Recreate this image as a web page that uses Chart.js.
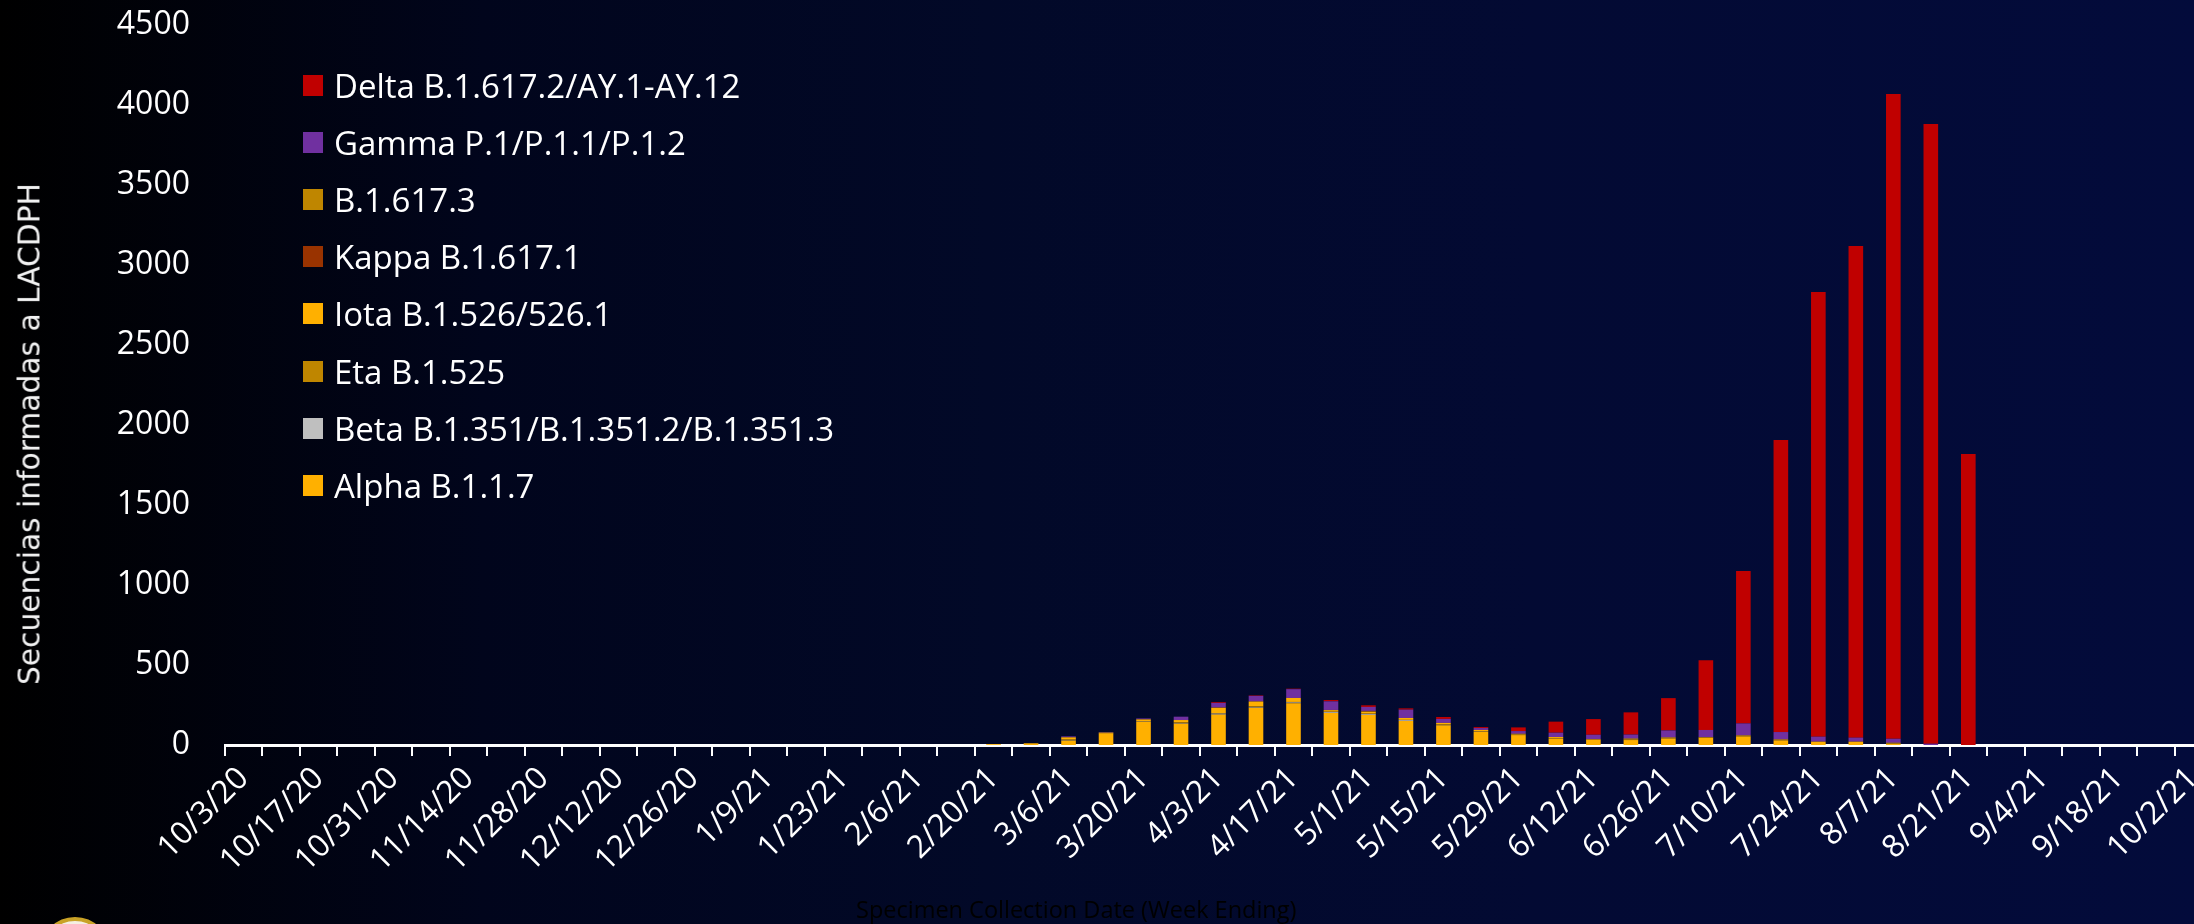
<!DOCTYPE html>
<html>
<head>
<meta charset="utf-8">
<title>Secuencias informadas a LACDPH</title>
<script src="https://cdn.jsdelivr.net/npm/chart.js@4.4.1/dist/chart.umd.min.js"></script>
<style>
  html, body {
    margin: 0;
    padding: 0;
    width: 2194px;
    height: 924px;
    overflow: hidden;
  }
  body {
    position: relative;
    background: linear-gradient(to right, #000000 0%, #01051c 22%, #020928 45%, #030a33 70%, #030b3b 100%);
    font-family: 'Open Sans', sans-serif;
  }
  #chart {
    position: absolute;
    left: 0;
    top: 0;
  }
  #yTitle {
    position: absolute;
    left: 29px;
    top: 434px;
    transform: translate(-50%, -50%) rotate(-90deg);
    font-family: 'DejaVu Sans', sans-serif;
    font-size: 29.7px;
    color: #f2f2f2;
    white-space: nowrap;
  }
  #xTitle {
    position: absolute;
    left: 856px;
    top: 898px;
    font-size: 23.5px;
    line-height: 23.5px;
    color: #000000;
    white-space: nowrap;
  }
  #legend {
    position: absolute;
    left: 303px;
    top: 64px;
    color: #ffffff;
    font-size: 33px;
  }
  .row {
    height: 57.1px;
    display: flex;
    align-items: center;
    white-space: nowrap;
    margin-top: -7px;
    margin-bottom: 7px;
  }
  .box {
    width: 20px;
    height: 21px;
    margin-right: 11px;
    flex: none;
  }
  #logo {
    position: absolute;
    left: 40px;
    top: 917px;
    width: 62px;
    height: 62px;
    border-radius: 50%;
    border: 4px solid #c9a227;
    background: #f4efe2;
  }
</style>
</head>
<body>
<canvas id="chart" width="2212" height="924"></canvas>
<div id="yTitle">Secuencias informadas a LACDPH</div>
<div id="xTitle">Specimen Collection Date (Week Ending)</div>
<div id="legend"></div>
<div id="logo"></div>
<script>
// semaines (fin de semaine de prélèvement)
var semaines = ['10/3/20','10/10/20','10/17/20','10/24/20','10/31/20','11/7/20','11/14/20','11/21/20','11/28/20',
  '12/5/20','12/12/20','12/19/20','12/26/20','1/2/21','1/9/21','1/16/21','1/23/21','1/30/21','2/6/21','2/13/21',
  '2/20/21','2/27/21','3/6/21','3/13/21','3/20/21','3/27/21','4/3/21','4/10/21','4/17/21','4/24/21','5/1/21',
  '5/8/21','5/15/21','5/22/21','5/29/21','6/5/21','6/12/21','6/19/21','6/26/21','7/3/21','7/10/21','7/17/21',
  '7/24/21','7/31/21','8/7/21','8/14/21','8/21/21','8/28/21','9/4/21','9/11/21','9/18/21','9/25/21','10/2/21'];

// valeurs (indices 0..52)
var alpha = [0,0,0,0,0,0,0,0,0,0,0,0,0,0,0,0,0,0,0,0,
  5,10,27,74,146,133,190,232,261,200,188,150,123,83,62,40,33,31,41,44,54,29,21,21,6,0,0,
  0,0,0,0,0,0];
var beta = [0,0,0,0,0,0,0,0,0,0,0,0,0,0,0,0,0,0,0,0,
  0,0,2,1,2,3,6,3,5,5,5,5,2,1,0,0,0,0,0,0,0,0,0,0,0,0,0,
  0,0,0,0,0,0];
var eta = [0,0,0,0,0,0,0,0,0,0,0,0,0,0,0,0,0,0,0,0,
  0,0,5,1,2,5,2,6,3,3,3,2,3,3,3,4,1,4,3,3,3,3,0,0,4,0,0,
  0,0,0,0,0,0];
var iota = [0,0,0,0,0,0,0,0,0,0,0,0,0,0,0,0,0,0,0,0,
  1,2,14,2,10,15,35,31,25,10,12,12,10,7,5,6,3,5,3,3,3,3,0,0,4,0,0,
  0,0,0,0,0,0];
var kappa = [0,0,0,0,0,0,0,0,0,0,0,0,0,0,0,0,0,0,0,0,
  0,0,0,0,0,0,1,0,0,0,2,0,0,0,0,0,0,0,0,0,0,0,0,0,0,0,0,
  0,0,0,0,0,0];
var b16173 = [0,0,0,0,0,0,0,0,0,0,0,0,0,0,0,0,0,0,0,0,
  0,0,0,0,0,0,0,0,0,1,3,0,0,0,0,0,0,0,0,0,0,0,0,0,0,0,0,
  0,0,0,0,0,0];
var gamma = [0,0,0,0,0,0,0,0,0,0,0,0,0,0,0,0,0,0,0,0,
  0,0,6,3,6,21,29,35,55,54,25,52,25,12,17,27,27,25,44,44,75,46,31,25,25,8,0,
  0,0,0,0,0,0];
var delta = [0,0,0,0,0,0,0,0,0,0,0,0,0,0,0,0,0,0,0,0,
  0,0,0,0,0,0,5,3,3,8,10,8,12,6,23,69,98,139,202,436,952,1825,2779,3073,4030,3873,1819,
  0,0,0,0,0,0];

var ticksY = [0, 500, 1000, 1500, 2000, 2500, 3000, 3500, 4000, 4500];

// ordre d'empilement : Alpha en bas, Delta en haut
var variantes = [
  { nom: 'Alpha B.1.1.7', valeurs: alpha, couleur: '#FFB000' },
  { nom: 'Beta B.1.351/B.1.351.2/B.1.351.3', valeurs: beta, couleur: '#BFBFBF' },
  { nom: 'Eta B.1.525', valeurs: eta, couleur: '#BF8600' },
  { nom: 'Iota B.1.526/526.1', valeurs: iota, couleur: '#FFB000' },
  { nom: 'Kappa B.1.617.1', valeurs: kappa, couleur: '#993300' },
  { nom: 'B.1.617.3', valeurs: b16173, couleur: '#BF8600' },
  { nom: 'Gamma P.1/P.1.1/P.1.2', valeurs: gamma, couleur: '#7030A0' },
  { nom: 'Delta B.1.617.2/AY.1-AY.12', valeurs: delta, couleur: '#C00000' }
];

Chart.defaults.font.family = "'Open Sans', sans-serif";
Chart.defaults.color = '#ffffff';

var ctx = document.getElementById('chart').getContext('2d');
var barChart = new Chart(ctx, {
  type: 'bar',
  data: {
    labels: semaines,
    datasets: variantes.map(function(v) {
      return {
        label: v.nom,
        data: v.valeurs,
        backgroundColor: v.couleur,
        borderWidth: 0,
        barPercentage: 0.39,
        categoryPercentage: 1.0
      };
    })
  },
  options: {
    responsive: false,
    animation: false,
    devicePixelRatio: 1,
    layout: { padding: { top: 25, left: 0, right: 0, bottom: 0 } },
    plugins: {
      legend: { display: false },
      title: { display: false },
      tooltip: { enabled: false }
    },
    scales: {
      x: {
        stacked: true,
        grid: {
          drawOnChartArea: false,
          drawTicks: true,
          tickLength: 11,
          color: '#ffffff',
          lineWidth: 2,
          offset: true
        },
        border: { display: true, color: '#ffffff', width: 3 },
        ticks: {
          autoSkip: false,
          minRotation: 45,
          maxRotation: 45,
          padding: 4,
          color: '#ffffff',
          font: { size: 31.5 },
          callback: function(value, index) {
            return index % 2 === 0 ? semaines[index] : '';
          }
        },
        afterFit: function(scale) {
          scale.height = 179;
          scale.paddingLeft = 0;
          scale.paddingRight = 0;
        }
      },
      y: {
        stacked: true,
        min: 0,
        max: 4500,
        grace: 0,
        afterBuildTicks: function(scale) {
          scale.ticks = ticksY.map(function(v) { return { value: v }; });
        },
        grid: { display: false, drawTicks: false },
        border: { display: false },
        ticks: {
          padding: 35,
          color: '#ffffff',
          font: { size: 32 },
          callback: function(value) { return String(value); }
        },
        afterFit: function(scale) {
          scale.width = 225;
          scale.paddingTop = 0;
          scale.paddingBottom = 0;
        }
      }
    }
  }
});

// légende construite à partir des jeux de données (ordre inverse)
var legende = document.getElementById('legend');
variantes.slice().reverse().forEach(function(v) {
  var ligne = document.createElement('div');
  ligne.className = 'row';
  var carre = document.createElement('span');
  carre.className = 'box';
  carre.style.background = v.couleur;
  var texte = document.createElement('span');
  texte.textContent = v.nom;
  ligne.appendChild(carre);
  ligne.appendChild(texte);
  legende.appendChild(ligne);
});
</script>
</body>
</html>
